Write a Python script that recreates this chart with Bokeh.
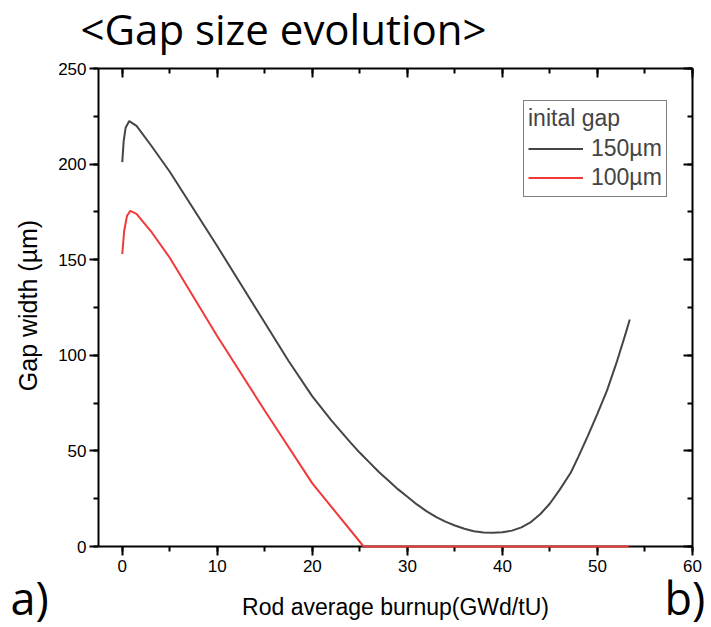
import math
from bokeh.plotting import figure
from bokeh.models import Range1d, LinearAxis, Legend, LegendItem, SingleIntervalTicker, Label
from bokeh.embed import file_html
from bokeh.resources import INLINE

# ---- data ----
burnup_150 = [0.0, 0.15, 0.35, 0.74, 1.5, 3.0, 5.0, 10.0, 15.0, 17.5, 20.0, 22.0, 24.0, 25.0, 26.0, 27.0, 28.0,
              29.0, 30.0, 31.0, 32.0, 33.0, 34.0, 35.0, 36.0, 37.0, 38.0, 39.0, 40.0, 41.0, 42.0, 43.0, 44.0,
              45.0, 46.0, 47.2, 48.0, 49.0, 50.0, 51.0, 52.0, 53.0, 53.4]
gap_150 = [201, 212, 219, 222.5, 220, 210, 196, 157, 117, 97, 78.5, 66, 54.5, 49, 44, 39, 34.5,
           30, 26, 22, 18.5, 15.5, 13, 11, 9.3, 8, 7.3, 7.2, 7.5, 8.3, 10, 12.8, 17,
           22.5, 29.5, 38.7, 47, 58, 69.5, 81.5, 96, 112, 118.7]

burnup_100 = [0.0, 0.2, 0.5, 0.85, 1.5, 3.0, 5.0, 10.0, 15.0, 20.0, 25.4, 53.3]
gap_100 = [153, 165, 173, 175.5, 174, 165, 151, 110, 71, 33, 0, 0]

series_labels = ["150µm", "100µm"]
legend_title = "inital gap"
chart_title = "<Gap size evolution>"
x_label = "Rod average burnup(GWd/tU)"
y_label = "Gap width (µm)"
panel_marks = ["a)", "b)"]

x_lo, x_hi = -2.5, 60.0
y_lo, y_hi = 0.0, 250.0

FONT = "Liberation Sans"
W, H = 711, 627
# plot box in canvas pixels
BOX_L, BOX_R, BOX_T, BOX_B = 98, 692, 68, 546
kx = (BOX_R - BOX_L) / (x_hi - x_lo)
ky = (BOX_B - BOX_T) / (y_hi - y_lo)

p = figure(width=W, height=H, output_backend="svg", toolbar_location=None,
           x_range=Range1d(x_lo - BOX_L / kx, x_hi + (W - BOX_R) / kx),
           y_range=Range1d(y_lo - (H - BOX_B) / ky, y_hi + BOX_T / ky),
           x_axis_type=None, y_axis_type=None, min_border=0)
p.title.visible = False
p.outline_line_color = None
p.grid.visible = False
p.background_fill_color = "white"
p.border_fill_color = "white"

r150 = p.line(burnup_150, gap_150, line_color="#454545", line_width=2)
r100 = p.line(burnup_100, gap_100, line_color="#f03a3a", line_width=2, level="overlay")


def make_axis(loc, bounds, interval, labels, inward):
    ax = LinearAxis(fixed_location=loc, bounds=bounds,
                    ticker=SingleIntervalTicker(interval=interval, num_minor_ticks=2))
    ax.axis_line_width = 2
    ax.axis_line_color = "black"
    ax.major_tick_line_width = 2
    ax.minor_tick_line_width = 2
    ax.major_tick_line_color = "black"
    ax.minor_tick_line_color = "black"
    if inward:
        ax.major_tick_in, ax.major_tick_out = 9, 0
        ax.minor_tick_in, ax.minor_tick_out = 5, 0
    else:
        ax.major_tick_in, ax.major_tick_out = 0, 9
        ax.minor_tick_in, ax.minor_tick_out = 0, 5
    ax.major_label_text_font = FONT
    ax.major_label_text_font_size = "17px"
    ax.major_label_text_color = "black"
    if not labels:
        ax.major_label_text_font_size = "0px"
        ax.major_label_text_alpha = 0
        ax.major_label_standoff = 0
    return ax


bottom = make_axis(y_lo, (x_lo, x_hi), 10, True, False)
bottom.major_label_standoff = 4
left = make_axis(x_lo, (y_lo, y_hi), 50, True, False)
left.major_label_standoff = 3
top = make_axis(y_hi, (x_lo, x_hi), 10, False, True)
right = make_axis(x_hi, (y_lo, y_hi), 50, False, True)
p.add_layout(bottom, "below")
p.add_layout(left, "left")
p.add_layout(top, "above")
p.add_layout(right, "right")

legend = Legend(items=[LegendItem(label=series_labels[0], renderers=[r150]),
                       LegendItem(label=series_labels[1], renderers=[r100])],
                location=(523, H - 197), title=legend_title)
legend.title_text_font = FONT
legend.title_text_font_size = "23px"
legend.title_text_font_style = "normal"
legend.title_standoff = 2
legend.label_text_font = FONT
legend.label_text_font_size = "23px"
legend.glyph_width = 55
legend.glyph_height = 29
legend.label_height = 29
legend.label_standoff = 8
legend.padding = 4
legend.spacing = 0
legend.margin = 0
legend.border_line_color = "black"
legend.border_line_width = 1
legend.background_fill_alpha = 1
p.add_layout(legend, "center")

texts = [
    Label(x=80, y=H - 28, x_units="screen", y_units="screen", text=chart_title,
          text_font="Open Sans", text_font_size="42px", text_color="black",
          text_baseline="alphabetic", text_align="left"),
    Label(x=10, y=H - 597, x_units="screen", y_units="screen", text=panel_marks[0],
          text_font="Open Sans", text_font_size="45px", text_color="black",
          text_baseline="middle", text_align="left"),
    Label(x=664, y=H - 597, x_units="screen", y_units="screen", text=panel_marks[1],
          text_font="Open Sans", text_font_size="45px", text_color="black",
          text_baseline="middle", text_align="left"),
    Label(x=(BOX_L + BOX_R) / 2, y=H - 606, x_units="screen", y_units="screen", text=x_label,
          text_font=FONT, text_font_size="23px", text_color="black",
          text_baseline="middle", text_align="center"),
    Label(x=27.5, y=H - 305, x_units="screen", y_units="screen", text=y_label, angle=math.pi / 2,
          text_font=FONT, text_font_size="25px", text_color="black",
          text_baseline="middle", text_align="center"),
]
for t in texts:
    p.add_layout(t)

open("out.html", "w").write(file_html(p, INLINE))
